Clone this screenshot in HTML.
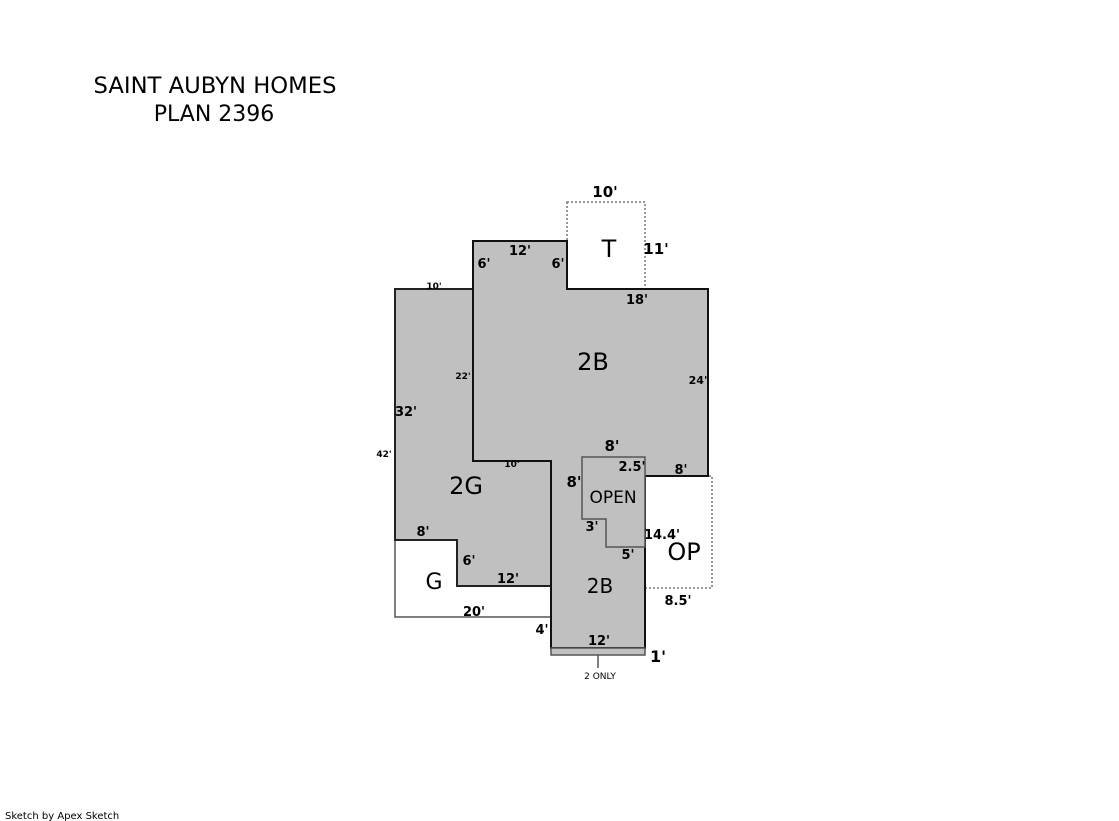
<!DOCTYPE html>
<html><head><style>
body{margin:0;background:#fff;width:1119px;height:821px;overflow:hidden}
svg{display:block}
.b{font-family:"DejaVu Sans",sans-serif;font-weight:bold;fill:#000}
.r{font-family:"DejaVu Sans",sans-serif;fill:#000}
</style></head><body>
<svg width="1119" height="821" viewBox="0 0 1119 821">
<text x="215" y="93" text-anchor="middle" class="r" style="font-size:22.5px" textLength="243" lengthAdjust="spacingAndGlyphs">SAINT AUBYN HOMES</text>
<text x="214" y="121" text-anchor="middle" class="r" style="font-size:22px">PLAN 2396</text>
<!-- T -->
<rect x="567" y="202" width="78" height="87" fill="#fff" stroke="#777" stroke-width="1.5" stroke-dasharray="2,2"/>
<!-- OP -->
<rect x="645" y="476" width="67" height="112" fill="#fff" stroke="#777" stroke-width="1.5" stroke-dasharray="2,2"/>
<!-- G -->
<polygon points="395,540 457,540 457,586 551,586 551,617 395,617" fill="#fff" stroke="#555" stroke-width="1.5"/>
<!-- 2G -->
<polygon points="395,289 473,289 473,461 551,461 551,586 457,586 457,540 395,540" fill="#c0c0c0" stroke="#222" stroke-width="2"/>
<!-- 2B -->
<polygon points="473,241 567,241 567,289 708,289 708,476 645,476 645,648 551,648 551,461 473,461" fill="#c0c0c0" stroke="#111" stroke-width="2"/>
<rect x="551" y="648" width="94" height="7" fill="#c0c0c0" stroke="#555" stroke-width="1.5"/>
<line x1="598" y1="655" x2="598" y2="668" stroke="#555" stroke-width="1.5"/>
<!-- OPEN -->
<polygon points="582,457 645,457 645,547 606,547 606,519 582,519" fill="#c0c0c0" stroke="#555" stroke-width="1.5"/>
<!-- labels -->
<g class="r" style="font-size:24px" text-anchor="middle">
<text x="609" y="257">T</text>
<text x="593" y="370">2B</text>
<text x="466" y="494">2G</text>
<text x="434" y="589" style="font-size:22px">G</text>
<text x="600" y="593" style="font-size:20px">2B</text>
<text x="684" y="560">OP</text>
<text x="613" y="503" style="font-size:17px">OPEN</text>
</g>
<g class="b" style="font-size:13px" text-anchor="middle">
<text x="605" y="197" style="font-size:15px">10'</text>
<text x="656" y="254" style="font-size:15px">11'</text>
<text x="520" y="255">12'</text>
<text x="484" y="268">6'</text>
<text x="558" y="268">6'</text>
<text x="637" y="304">18'</text>
<text x="698" y="384" style="font-size:11px">24'</text>
<text x="463" y="379" style="font-size:9px">22'</text>
<text x="434" y="289" style="font-size:9px">10'</text>
<text x="406" y="416">32'</text>
<text x="384" y="457" style="font-size:9px">42'</text>
<text x="512" y="467" style="font-size:9px">10'</text>
<text x="612" y="451" style="font-size:15px">8'</text>
<text x="632" y="471">2.5'</text>
<text x="681" y="474">8'</text>
<text x="574" y="487" style="font-size:15px">8'</text>
<text x="592" y="531">3'</text>
<text x="662" y="539">14.4'</text>
<text x="628" y="559">5'</text>
<text x="423" y="536">8'</text>
<text x="469" y="565">6'</text>
<text x="508" y="583">12'</text>
<text x="474" y="616">20'</text>
<text x="542" y="634">4'</text>
<text x="599" y="645">12'</text>
<text x="678" y="605">8.5'</text>
<text x="658" y="662" style="font-size:16px">1'</text>
</g>
<text x="600" y="679" text-anchor="middle" class="r" style="font-size:9px">2 ONLY</text>
<text x="5" y="819" class="r" style="font-size:10px">Sketch by Apex Sketch</text>
</svg>
</body></html>
